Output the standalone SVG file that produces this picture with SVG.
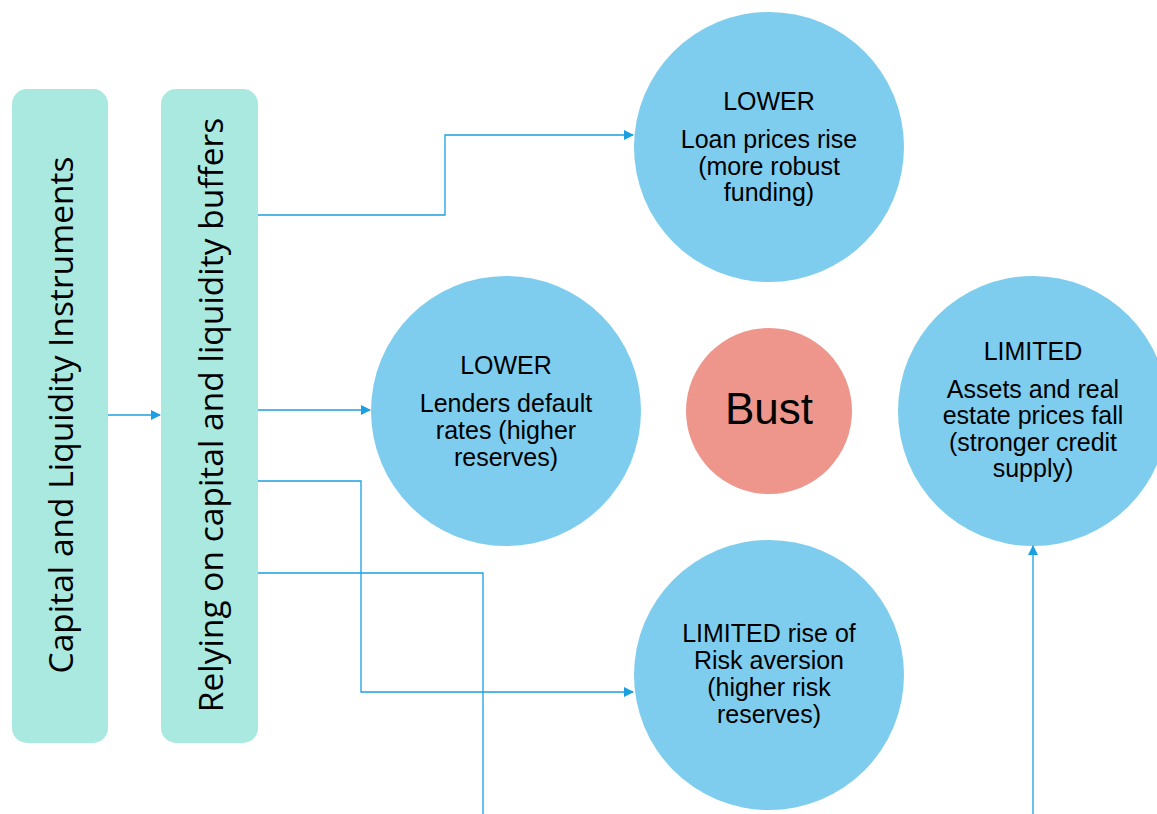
<svg xmlns="http://www.w3.org/2000/svg" width="1157" height="814" viewBox="0 0 1157 814">
  <style>
    .bar { fill: #a9e9e0; }
    .bubble { fill: #7fcdee; }
    .bust { fill: #ee958c; }
    .bar-label { font-family: "Open Sans", "DejaVu Sans", sans-serif; font-size: 33.5px; fill: #000; text-anchor: middle; }
    .label { font-family: "Liberation Sans", Arial, sans-serif; font-size: 25px; fill: #000; text-anchor: middle; }
    .link { fill: none; stroke: #1aa0e0; stroke-width: 1.3; }
  </style>
  <defs>
    <marker id="arrow" viewBox="0 0 10 10" refX="9" refY="5" markerWidth="11" markerHeight="10" markerUnits="userSpaceOnUse" orient="auto">
      <path d="M0,0 L10,5 L0,10 z" fill="#1aa0e0"/>
    </marker>
  </defs>
  <rect width="1157" height="814" fill="#ffffff"/>

  <g id="instruments">
    <rect class="bar" x="12" y="89" width="96" height="654" rx="15"/>
    <text class="bar-label" transform="translate(73,415) rotate(-90)">Capital and Liquidity Instruments</text>
  </g>

  <g id="buffers">
    <rect class="bar" x="161" y="89" width="97" height="654" rx="15"/>
    <text class="bar-label" transform="translate(223,415) rotate(-90)">Relying on capital and liquidity buffers</text>
  </g>

  <g id="loan-prices">
    <circle class="bubble" cx="769" cy="147" r="135"/>
    <text class="label" x="769" y="110">LOWER</text>
    <text class="label" x="769" y="148">Loan prices rise</text>
    <text class="label" x="769" y="175">(more robust</text>
    <text class="label" x="769" y="201">funding)</text>
  </g>

  <g id="default-rates">
    <circle class="bubble" cx="506" cy="411" r="135"/>
    <text class="label" x="506" y="374">LOWER</text>
    <text class="label" x="506" y="412">Lenders default</text>
    <text class="label" x="506" y="439">rates (higher</text>
    <text class="label" x="506" y="466">reserves)</text>
  </g>

  <g id="bust">
    <circle class="bust" cx="769" cy="411" r="83"/>
    <text x="769" y="424" font-family="Liberation Sans, Arial, sans-serif" font-size="44" text-anchor="middle" fill="#000">Bust</text>
  </g>

  <g id="asset-prices">
    <circle class="bubble" cx="1033" cy="411" r="135"/>
    <text class="label" x="1033" y="360">LIMITED</text>
    <text class="label" x="1033" y="398">Assets and real</text>
    <text class="label" x="1033" y="424">estate prices fall</text>
    <text class="label" x="1033" y="451">(stronger credit</text>
    <text class="label" x="1033" y="477">supply)</text>
  </g>

  <g id="risk-aversion">
    <circle class="bubble" cx="769" cy="675" r="135"/>
    <text class="label" x="769" y="642">LIMITED rise of</text>
    <text class="label" x="769" y="669">Risk aversion</text>
    <text class="label" x="769" y="696">(higher risk</text>
    <text class="label" x="769" y="723">reserves)</text>
  </g>

  <g id="connectors">
    <path class="link" d="M108,415 H160" marker-end="url(#arrow)"/>
    <path class="link" d="M258,215 H445 V135 H633" marker-end="url(#arrow)"/>
    <path class="link" d="M258,410 H370" marker-end="url(#arrow)"/>
    <path class="link" d="M258,481 H361 V692 H633" marker-end="url(#arrow)"/>
    <path class="link" d="M258,573 H483 V814"/>
    <path class="link" d="M1033,814 V546" marker-end="url(#arrow)"/>
  </g>
</svg>
